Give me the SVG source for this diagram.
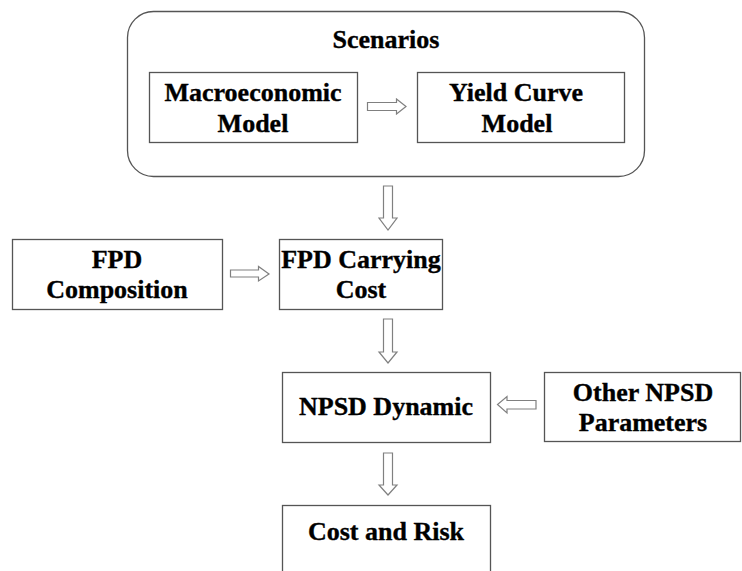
<svg xmlns="http://www.w3.org/2000/svg" width="742" height="571" viewBox="0 0 742 571">
<style>
.box{fill:#fff;stroke:#555;stroke-width:1.3}
.arr{fill:#fff;stroke:#808080;stroke-width:1.2;stroke-linejoin:miter}
.t{font-family:'Liberation Serif','Times New Roman',serif;font-weight:700;font-size:26px;fill:#000;stroke:#000;stroke-width:0.35;text-anchor:middle}
</style>
<rect width="742" height="571" fill="#fff"/>
<g id="scenarios">
<rect class="box" x="127.5" y="11.5" width="517" height="165" rx="26" ry="26"/>
<text class="t" x="386" y="48">Scenarios</text>
</g>
<g id="macro">
<rect class="box" x="149.5" y="72.5" width="208" height="70"/>
<text class="t" x="253" y="101">Macroeconomic</text>
<text class="t" x="253" y="132">Model</text>
</g>
<g id="yield">
<rect class="box" x="417.5" y="72.5" width="207" height="70"/>
<text class="t" x="516" y="101">Yield Curve</text>
<text class="t" x="517" y="132">Model</text>
</g>
<g id="fpdcomp">
<rect class="box" x="12.5" y="239.5" width="210" height="70"/>
<text class="t" x="117" y="268">FPD</text>
<text class="t" x="117" y="298">Composition</text>
</g>
<g id="fpdcost">
<rect class="box" x="279.5" y="239.5" width="163" height="70"/>
<text class="t" x="361" y="268">FPD Carrying</text>
<text class="t" x="361" y="298">Cost</text>
</g>
<g id="npsd">
<rect class="box" x="282.5" y="372.5" width="208" height="70"/>
<text class="t" x="386" y="415">NPSD Dynamic</text>
</g>
<g id="other">
<rect class="box" x="544.5" y="372.5" width="196" height="69"/>
<text class="t" x="643" y="401">Other NPSD</text>
<text class="t" x="643" y="431">Parameters</text>
</g>
<g id="cost">
<rect class="box" x="282.5" y="505.5" width="208" height="80"/>
<text class="t" x="386" y="540">Cost and Risk</text>
</g>
<g id="connectors">
<path class="arr" d="M367.5,102.5 H396.5 V99 L406,106.5 L396.5,114 V110.5 H367.5 Z"/>
<path class="arr" d="M383.5,186 V218 H379 L388,230 L397,218 H392.5 V186 Z"/>
<path class="arr" d="M230.5,270 H258.5 V266.5 L269,274 L258.5,281 V277 H230.5 Z"/>
<path class="arr" d="M383.5,319 V352 H379 L388,363 L397,352 H392.5 V319 Z"/>
<path class="arr" d="M536,400.5 H507 V396.5 L497.5,404.5 L507,413 V409 H536 Z"/>
<path class="arr" d="M383.5,453 V485 H379 L388,495 L397,485 H392.5 V453 Z"/>
</g>
</svg>
